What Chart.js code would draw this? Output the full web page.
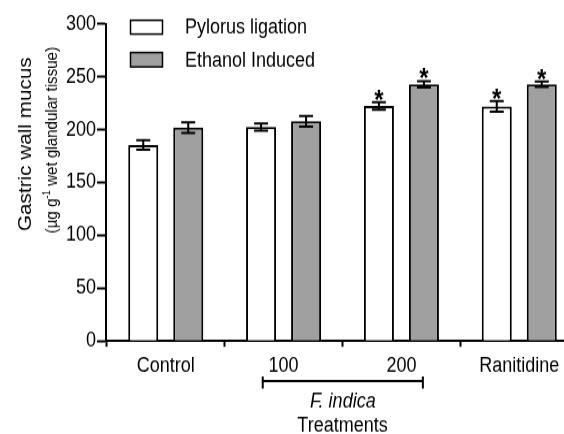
<!DOCTYPE html>
<html><head><meta charset="utf-8">
<script src="https://cdn.jsdelivr.net/npm/chart.js@4.4.1/dist/chart.umd.min.js"></script>
<style>
html,body{margin:0;padding:0;overflow:hidden;background:#fff;width:564px;height:434px;}
#wrap{position:absolute;left:0;top:0;width:579px;height:377px;transform:scaleY(1.1512);transform-origin:0 0;}
</style></head><body>
<div id="wrap"><canvas id="c"></canvas></div>
<script>
// ---- data ----
const categories = ['Control', '100', '200', 'Ranitidine'];
const seriesNames = ['Pylorus ligation', 'Ethanol Induced'];
const pylorusMean = [185.5, 202.5, 222.5, 222];
const pylorusSem  = [4.5, 3.5, 3.5, 5];
const ethanolMean = [202, 208, 243, 243];
const ethanolSem  = [5, 5, 3, 2.5];
const pylorusSig  = [false, false, true, true];
const ethanolSig  = [false, false, true, true];
const yTicks = [0, 50, 100, 150, 200, 250, 300];
const bracketLabel = 'F. indica';
const bracketFrom = 0.823, bracketTo = 2.182;
const xTitle = 'Treatments';
const yTitleLine1 = 'Gastric wall mucus';
const yTitleLine2 = ['(\u00B5g g', '-1', ' wet glandular tissue)'];

const FONT = '"Liberation Sans", Arial, Helvetica, sans-serif';
const colors = ['#ffffff', '#a0a0a0'];

const datasets = [
  {label: seriesNames[0], mean: pylorusMean, sem: pylorusSem, sig: pylorusSig},
  {label: seriesNames[1], mean: ethanolMean, sem: ethanolSem, sig: ethanolSig}
].map((s, k) => ({
  label: s.label,
  data: categories.map((c, i) => ({x: i, y: s.mean[i]})),
  sem: s.sem, sig: s.sig,
  backgroundColor: colors[k],
  borderColor: '#000',
  borderWidth: 2,
  borderSkipped: 'start',
  categoryPercentage: 0.764,
  barPercentage: 0.667
}));

const extras = {
  id: 'extras',
  afterDatasetsDraw(chart) {
    const ctx = chart.ctx, y = chart.scales.y;
    ctx.save();
    ctx.strokeStyle = '#000';
    ctx.fillStyle = '#000';
    ctx.lineWidth = 2;
    chart.data.datasets.forEach((ds, di) => {
      const meta = chart.getDatasetMeta(di);
      meta.data.forEach((bar, i) => {
        const m = ds.data[i].y, s = ds.sem[i];
        const yh = y.getPixelForValue(m + s), yl = y.getPixelForValue(m - s);
        const x = bar.x, hw = 7;
        ctx.beginPath();
        ctx.moveTo(x, yh); ctx.lineTo(x, yl);
        ctx.moveTo(x - hw, yh); ctx.lineTo(x + hw, yh);
        ctx.moveTo(x - hw, yl); ctx.lineTo(x + hw, yl);
        ctx.stroke();
        if (ds.sig[i]) {
          ctx.font = 'bold 24px ' + FONT;
          ctx.textAlign = 'center';
          ctx.textBaseline = 'alphabetic';
          ctx.fillText('*', x, yh + 6);
        }
      });
    });
    ctx.restore();
  },
  afterDraw(chart) {
    const ctx = chart.ctx, xs = chart.scales.x, area = chart.chartArea;
    ctx.save();
    ctx.fillStyle = '#000';
    ctx.strokeStyle = '#000';
    // legend
    ctx.lineWidth = 1.5;
    ctx.font = '18px ' + FONT;
    ctx.textAlign = 'left';
    ctx.textBaseline = 'alphabetic';
    const boxes = [[17.6, 12], [45.6, 12.5]];
    const bases = [29, 58];
    chart.data.datasets.forEach((ds, k) => {
      ctx.fillStyle = ds.backgroundColor;
      ctx.fillRect(130.5, boxes[k][0], 32, boxes[k][1]);
      ctx.strokeRect(130.5, boxes[k][0], 32, boxes[k][1]);
      ctx.fillStyle = '#000';
      ctx.fillText(ds.label, 185, bases[k]);
    });
    // bracket
    const bx1 = xs.getPixelForValue(bracketFrom), bx2 = xs.getPixelForValue(bracketTo);
    ctx.lineWidth = 2;
    ctx.beginPath();
    ctx.moveTo(bx1, 331); ctx.lineTo(bx2, 331);
    ctx.moveTo(bx1, 327); ctx.lineTo(bx1, 337.5);
    ctx.moveTo(bx2, 327); ctx.lineTo(bx2, 337.5);
    ctx.stroke();
    ctx.textAlign = 'center';
    ctx.font = 'italic 18px ' + FONT;
    ctx.fillText(bracketLabel, (bx1 + bx2) / 2, 353.5);
    ctx.font = '18px ' + FONT;
    ctx.fillText(xTitle, (area.left + area.right) / 2, 375);
    // y title, line 1
    ctx.save();
    ctx.translate(31, 125.2);
    ctx.rotate(-Math.PI / 2);
    ctx.font = '18px ' + FONT;
    ctx.textAlign = 'center';
    ctx.fillText(yTitleLine1, 0, 0);
    ctx.restore();
    // y title, line 2 (with superscript), condensed to the reference length
    ctx.save();
    ctx.translate(56.5, 121.7);
    ctx.rotate(-Math.PI / 2);
    const sz = 16;
    const f2 = sz + 'px ' + FONT, fs = Math.round(sz * 0.62) + 'px ' + FONT;
    ctx.font = f2; const w0 = ctx.measureText(yTitleLine2[0]).width;
    const w2 = ctx.measureText(yTitleLine2[2]).width;
    ctx.font = fs; const w1 = ctx.measureText(yTitleLine2[1]).width;
    const total = w0 + w1 + w2;
    ctx.scale(162 / total, 1);
    let px = -total / 2;
    ctx.textAlign = 'left';
    ctx.font = f2; ctx.fillText(yTitleLine2[0], px, 0); px += w0;
    ctx.font = fs; ctx.fillText(yTitleLine2[1], px, -sz * 0.42); px += w1;
    ctx.font = f2; ctx.fillText(yTitleLine2[2], px, 0);
    ctx.restore();
    ctx.restore();
  }
};

new Chart(document.getElementById('c'), {
  type: 'bar',
  data: {datasets},
  options: {
    responsive: true,
    maintainAspectRatio: false,
    animation: false,
    layout: {padding: {top: 20.85, left: 0, right: 0, bottom: 0}},
    plugins: {legend: {display: false}, tooltip: {enabled: false}},
    scales: {
      x: {
        type: 'linear', min: -0.507, max: 3.507, offset: false, z: 1,
        afterFit: s => { s.height = 80.8; },
        afterBuildTicks: s => { s.ticks = categories.map((c, i) => ({value: i})); },
        ticks: {stepSize: 1, includeBounds: false, autoSkip: false, maxRotation: 0,
          callback: v => categories[v], color: '#000', font: {family: FONT, size: 18}, padding: 6},
        grid: {display: true, drawOnChartArea: false, drawTicks: true, tickLength: 5, tickWidth: 2, tickColor: '#000'},
        border: {display: true, color: '#000', width: 2}
      },
      y: {
        min: 0, max: 300,
        afterFit: s => { s.width = 106; },
        afterBuildTicks: s => { s.ticks = yTicks.map(v => ({value: v})); },
        ticks: {color: '#000', font: {family: FONT, size: 18}, padding: 1},
        grid: {display: true, drawOnChartArea: false, drawTicks: true, tickLength: 9, tickWidth: 2, tickColor: '#000'},
        border: {display: true, color: '#000', width: 2}
      }
    }
  },
  plugins: [extras]
});
</script>
</body></html>
